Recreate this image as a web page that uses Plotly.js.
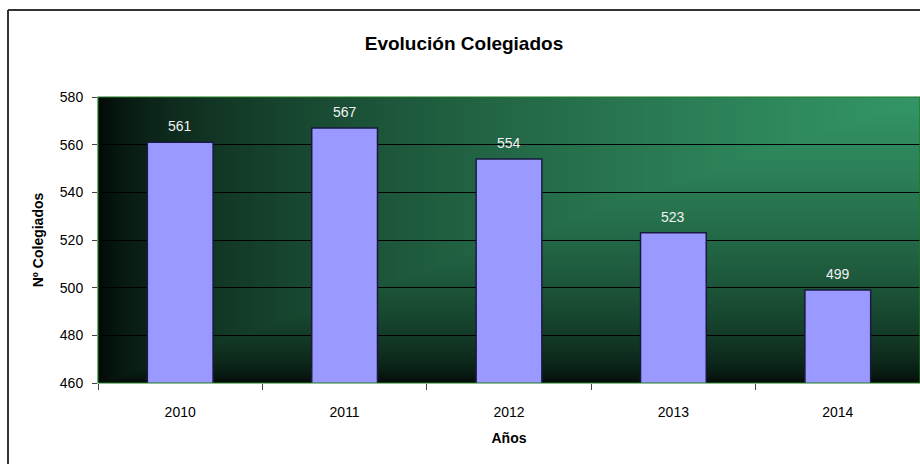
<!DOCTYPE html>
<html>
<head>
<meta charset="utf-8">
<script src="https://cdn.plot.ly/plotly-3.0.1.min.js"></script>
<style>
html,body{margin:0;padding:0;background:#fff;overflow:hidden;width:920px;height:464px;}
#chart{width:930px;height:480px;}
</style>
</head>
<body>
<div id="chart"></div>
<script>
const years = ["2010", "2011", "2012", "2013", "2014"];
const colegiados = [561, 567, 554, 523, 499];
const yTicks = [460, 480, 500, 520, 540, 560, 580];

// background gradient (corner gradient from top-right green to black)
function makeGradient(w, h) {
  const c = document.createElement('canvas');
  c.width = w; c.height = h;
  const ctx = c.getContext('2d');
  const img = ctx.createImageData(w, h);
  const g = [51, 150, 102];
  for (let y = 0; y < h; y++) {
    for (let x = 0; x < w; x++) {
      const dx = (w - x) / w, dy = y / h;
      const t = Math.max(dx, dy);
      const f = Math.pow(Math.max(0, 1 - t), 0.55);
      const i = (y * w + x) * 4;
      img.data[i] = Math.round(g[0] * f);
      img.data[i + 1] = Math.round(4 + (g[1] - 4) * f);
      img.data[i + 2] = Math.round(2 + (g[2] - 2) * f);
      img.data[i + 3] = 255;
    }
  }
  ctx.putImageData(img, 0, 0);
  return c.toDataURL('image/png');
}

const font = "Liberation Sans, Arial, sans-serif";

const trace = {
  type: 'bar',
  x: years,
  y: colegiados,
  width: 0.4,
  marker: { color: '#9999ff', line: { color: '#1a1a40', width: 1.5 } },
  hoverinfo: 'none'
};

const annotations = years.map((yr, i) => ({
  x: i, y: colegiados[i], xref: 'x', yref: 'y',
  text: String(colegiados[i]), showarrow: false,
  yanchor: 'bottom', yshift: 6,
  font: { family: font, size: 14, color: '#f2f2f2' }
}));

const layout = {
  width: 930, height: 480,
  margin: { l: 98, r: 10, t: 97, b: 97 },
  paper_bgcolor: '#ffffff',
  plot_bgcolor: 'rgba(0,0,0,0)',
  showlegend: false,
  title: {
    text: '<b>Evolución Colegiados</b>',
    font: { family: font, size: 19, color: '#000' },
    x: 464 / 930, xref: 'container', xanchor: 'center', y: 0.91, yref: 'container', yanchor: 'middle'
  },
  xaxis: {
    type: 'category',
    categoryorder: 'array',
    categoryarray: years,
    range: [-0.5, 4.5],
    autorange: false,
    tickson: 'boundaries',
    ticks: 'outside', ticklen: 6, tickcolor: '#444', tickwidth: 1,
    ticklabelstandoff: 19,
    showgrid: false, zeroline: false, showline: false,
    tickfont: { family: font, size: 14, color: '#000' },
    title: { text: '<b>Años</b>', font: { family: font, size: 14, color: '#000' }, standoff: 14 },
    fixedrange: true
  },
  yaxis: {
    range: [460, 580],
    autorange: false,
    tickvals: yTicks,
    ticks: 'outside', ticklen: 5, tickcolor: '#444', tickwidth: 1,
    ticklabelstandoff: 6,
    showgrid: true, gridcolor: '#000000', gridwidth: 1,
    zeroline: false, showline: false,
    tickfont: { family: font, size: 14, color: '#000' },
    title: { text: '<b>Nº Colegiados</b>', font: { family: font, size: 14, color: '#000' }, standoff: 12 },
    fixedrange: true
  },
  annotations: annotations,
  images: [{
    source: makeGradient(822, 286),
    xref: 'paper', yref: 'paper', x: 0, y: 1, sizex: 1, sizey: 1,
    sizing: 'stretch', xanchor: 'left', yanchor: 'top', layer: 'below'
  }],
  shapes: [
    { type: 'rect', xref: 'paper', yref: 'paper', x0: 0, x1: 1, y0: 0, y1: 1,
      line: { color: '#1f7a1f', width: 1.2 }, fillcolor: 'rgba(0,0,0,0)', layer: 'above' },
    { type: 'line', xref: 'paper', yref: 'paper', x0: -90/822, x1: 1.02, y0: 1 + 87/286, y1: 1 + 87/286,
      line: { color: '#333', width: 2 } },
    { type: 'line', xref: 'paper', yref: 'paper', x0: -90/822, x1: -90/822, y0: -0.4, y1: 1 + 87/286,
      line: { color: '#333', width: 2 } }
  ]
};

Plotly.newPlot('chart', [trace], layout, { displayModeBar: false, staticPlot: true });
</script>
</body>
</html>
